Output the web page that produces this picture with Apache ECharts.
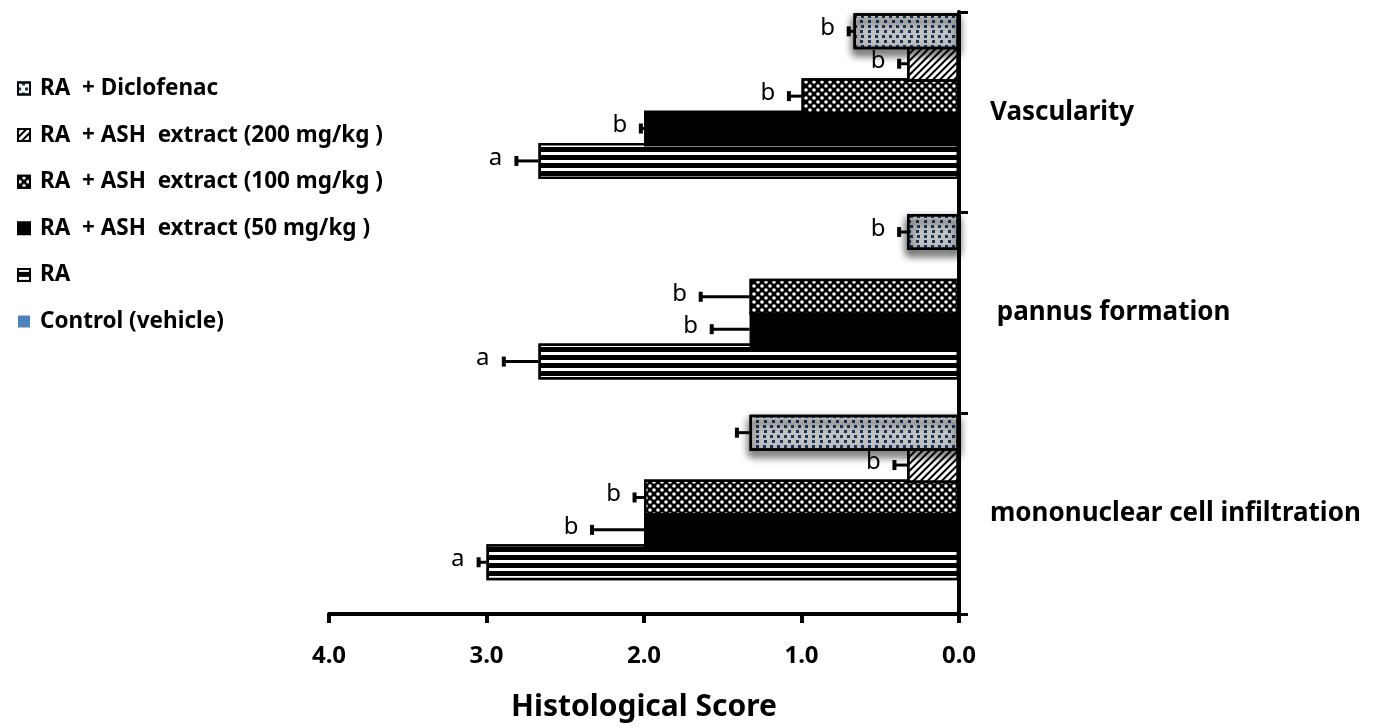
<!DOCTYPE html>
<html>
<head>
<meta charset="utf-8">
<script src="https://cdn.jsdelivr.net/npm/echarts@6/dist/echarts.min.js"></script>
<style>
html,body{margin:0;padding:0;background:#fff;}
#chart{width:1384px;height:727px;}
</style>
</head>
<body>
<div id="chart"></div>
<script>
// ---- data ----
const categories = ['mononuclear cell infiltration', ' pannus formation', 'Vascularity'];
// series listed top-to-bottom inside each category band
const seriesNames = ['RA  + Diclofenac', 'RA  + ASH  extract (200 mg/kg )', 'RA  + ASH  extract (100 mg/kg )', 'RA  + ASH  extract (50 mg/kg )', 'RA', 'Control (vehicle)'];
// values in category order: mononuclear, pannus, vascularity
const diclVals    = [1.33, 0.33, 0.67];
const diclErr     = [0.08, 0.05, 0.03];
const ash200Vals  = [0.33, 0, 0.33];
const ash200Err   = [0.08, 0, 0.05];
const ash100Vals  = [2.0, 1.33, 1.0];
const ash100Err   = [0.06, 0.31, 0.08];
const ash50Vals   = [2.0, 1.33, 2.0];
const ash50Err    = [0.33, 0.24, 0.02];
const raVals      = [3.0, 2.67, 2.67];
const raErr       = [0.05, 0.22, 0.14];
const controlVals = [0, 0, 0];
const controlErr  = [0, 0, 0];
const diclLetters   = ['', 'b', 'b'];
const ash200Letters = ['b', '', 'b'];
const ash100Letters = ['b', 'b', 'b'];
const ash50Letters  = ['b', 'b', 'b'];
const raLetters     = ['a', 'a', 'a'];
const controlLetters = ['', '', ''];
const xTicks = [0, 1, 2, 3, 4];

const allVals = [diclVals, ash200Vals, ash100Vals, ash50Vals, raVals, controlVals];
const allErr = [diclErr, ash200Err, ash100Err, ash50Err, raErr, controlErr];
const allLetters = [diclLetters, ash200Letters, ash100Letters, ash50Letters, raLetters, controlLetters];

// ---- styles ----
const FONT = 'Noto Sans';
const BAR_W = 36;
const BAR_GAP = -0.1;
const STEP = BAR_W * (1 + BAR_GAP);

const styles = [
  {color: '#fff', borderColor: '#000', borderWidth: 2.5, shadowColor: 'rgba(0,0,0,0.22)', shadowBlur: 8, shadowOffsetY: 5,
   decal: {symbol: 'rect', symbolSize: 1, color: '#17365d', dashArrayX: [[3, 4], [0, 3.5, 3, 0.5]], dashArrayY: [3, 2], rotation: 0}},
  {color: '#fff', borderColor: '#000', borderWidth: 2.5,
   decal: {symbol: 'rect', symbolSize: 1, color: '#000', dashArrayX: [1, 0], dashArrayY: [1.5, 2.5], rotation: -Math.PI / 4}},
  {color: '#000', borderColor: '#000', borderWidth: 2.5,
   decal: {symbol: 'circle', symbolSize: 0.9, color: '#fff', dashArrayX: [[4, 4], [0, 4, 4, 0]], dashArrayY: [4, 0], rotation: 0}},
  {color: '#000', borderColor: '#000', borderWidth: 2.5},
  {color: '#000', borderColor: '#000', borderWidth: 2.5,
   decal: {symbol: 'rect', symbolSize: 1, color: '#fff', dashArrayX: [1, 0], dashArrayY: [3, 5], rotation: 0}},
  {color: '#4F81BD', borderWidth: 0}
];
const layerZ = [8, 7, 6, 5, 4, 3];

const barSeries = seriesNames.map((name, k) => ({
  name: name,
  type: 'bar',
  data: allVals[k],
  barWidth: BAR_W,
  barGap: (BAR_GAP * 100) + '%',
  itemStyle: styles[k],
  z: layerZ[k],
  emphasis: {disabled: true},
  animation: false
}));

const errData = [];
allVals.forEach((vals, k) => {
  vals.forEach((v, c) => {
    errData.push([c, v, v + allErr[k][c], k]);
  });
});

function renderErr(params, api) {
  const c = api.value(0), v = api.value(1), hi = api.value(2), k = api.value(3);
  if (v <= 0) return null;
  const base = api.coord([0, c]);
  const yc = base[1] + (k - 2.5) * STEP;
  const xBar = api.coord([v, c])[0];
  const xCap = api.coord([hi, c])[0];
  const letter = allLetters[k][c];
  const children = [];
  if (hi > v) {
    children.push({type: 'line', shape: {x1: xBar, y1: yc, x2: xCap, y2: yc}, style: {stroke: '#000', lineWidth: 3}});
    children.push({type: 'line', shape: {x1: xCap, y1: yc - 5, x2: xCap, y2: yc + 5}, style: {stroke: '#000', lineWidth: 4}});
  }
  if (letter) {
    children.push({type: 'text', style: {x: xCap - 21, y: yc - 3, text: letter, fill: '#000', font: '24px "' + FONT + '"', textAlign: 'center', textVerticalAlign: 'middle'}});
  }
  return {type: 'group', children: children};
}

const chart = echarts.init(document.getElementById('chart'), null, {renderer: 'canvas'});
chart.setOption({
  backgroundColor: '#fff',
  animation: false,
  textStyle: {fontFamily: FONT},
  grid: {left: 329, right: 425, top: 12, bottom: 109, containLabel: false},
  legend: {
    orient: 'vertical',
    left: 12,
    top: 72,
    icon: 'rect',
    itemWidth: 12,
    itemHeight: 12,
    itemGap: 23.6,
    data: seriesNames.slice(),
    selectedMode: false,
    textStyle: {fontFamily: FONT, fontSize: 22.5, fontWeight: 'bold', color: '#000', lineHeight: 22, padding: [0, 0, 0, 5]}
  },
  xAxis: {
    type: 'value',
    inverse: true,
    min: xTicks[0],
    max: xTicks[xTicks.length - 1],
    interval: 1,
    axisLine: {show: true, lineStyle: {color: '#000', width: 4}},
    axisTick: {show: true, length: 9, lineStyle: {color: '#000', width: 4}},
    axisLabel: {formatter: v => v.toFixed(1), fontFamily: FONT, fontSize: 24, fontWeight: 'bold', color: '#000', margin: 30},
    splitLine: {show: false},
    name: 'Histological Score',
    nameLocation: 'middle',
    nameGap: 78,
    nameTextStyle: {fontFamily: FONT, fontSize: 30, fontWeight: 'bold', color: '#000'}
  },
  yAxis: {
    type: 'category',
    data: categories,
    position: 'right',
    axisLine: {show: true, lineStyle: {color: '#000', width: 4}},
    axisTick: {show: true, length: 9, lineStyle: {color: '#000', width: 3}},
    axisLabel: {fontFamily: FONT, fontSize: 26, fontWeight: 'bold', color: '#000', margin: 31},
    splitLine: {show: false}
  },
  series: barSeries.concat([{
    name: 'err',
    type: 'custom',
    renderItem: renderErr,
    data: errData,
    encode: {x: 1, y: 0},
    z: 10,
    silent: true,
    animation: false
  }])
});
</script>
</body>
</html>
